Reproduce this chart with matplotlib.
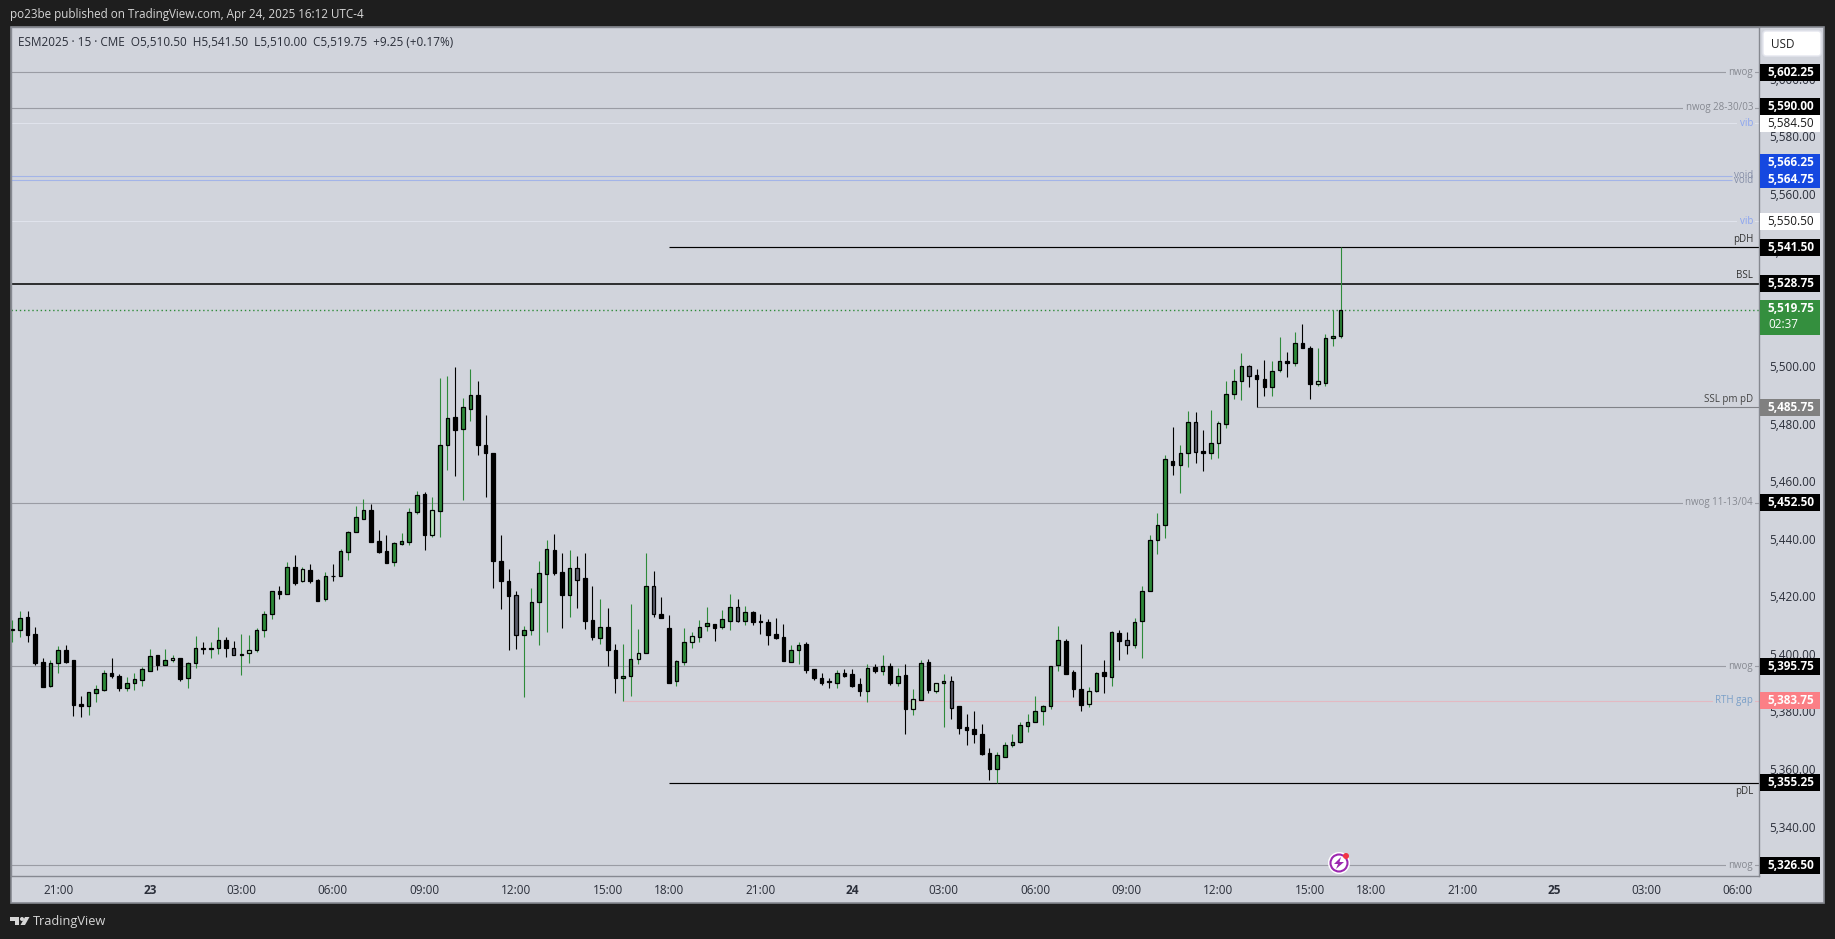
import matplotlib
matplotlib.use("Agg")
import matplotlib.pyplot as plt
from matplotlib.patches import Rectangle, FancyBboxPatch, Circle, Polygon
from matplotlib.transforms import Affine2D, blended_transform_factory

plt.rcParams['font.family'] = ['Open Sans', 'DejaVu Sans']

# 15 minute bars
opens = [5408.5,5408.5,5412.75,5407,5397.25,5388.75,5396.75,5401.25,5398,5382.5,
         5382,5386.5,5387.5,5393.25,5392.5,5388,5389.75,5391,5394.25,5399.5,
         5396.25,5397.75,5398.5,5391.5,5396.75,5402,5401.75,5402.25,5404.75,5402.25,
         5399.75,5400.25,5401.25,5408.5,5413.75,5421.75,5421,5430.25,5425.25,5429.25,
         5425.75,5419,5427.25,5427,5435.5,5442.25,5447,5450,5439.25,5435.75,
         5432,5438.25,5439,5449.25,5455.5,5441.5,5449.75,5472.5,5482.25,5478.25,
         5485.25,5490,5472.5,5469.75,5432.25,5425.25,5420.5,5406.75,5408.5,5418,
         5427.75,5436,5428.5,5420.5,5429.75,5426.25,5411.75,5405.5,5409.25,5401.5,
         5391.75,5392.5,5398.25,5400.5,5423.75,5414,5409,5390.5,5397.25,5404,
         5406,5409.75,5410.5,5409.25,5411.5,5416.5,5411.5,5414.5,5411.5,5411,
         5407,5406,5397.25,5401.25,5403.5,5394.75,5391.5,5390.5,5389.75,5393.5,
         5393,5389.5,5387.25,5395.5,5394,5395.75,5389.75,5392.75,5381,5384,
         5397.25,5387.25,5389.75,5390.5,5382,5374.5,5374,5372.25,5365.5,5360,
         5364.25,5368.25,5369.25,5375,5376.5,5380,5381.75,5396,5404.5,5393.75,
         5387.75,5382.5,5387,5393.75,5392,5407.25,5404.75,5403.25,5411.5,5422,
         5439.5,5445,5467.25,5465.75,5470,5480.5,5470.5,5469.75,5473.25,5480,
         5490.25,5494.75,5500,5497,5495.75,5493,5498.75,5502,5501,5508.25,
         5506.25,5494,5494.25,5509.75,5510.5]
highs = [5411.75,5415,5415,5409.5,5398.5,5397.75,5402.75,5403.25,5398,5385.5,
         5386.75,5389.25,5394.5,5398.5,5393,5392,5393.5,5395.5,5401.75,5399.5,
         5401.75,5399.75,5398.5,5397.25,5406.25,5404.25,5404.25,5409.5,5406,5404.5,
         5407,5406.5,5409,5415,5422,5423.75,5432,5434.5,5430.25,5431.25,
         5426,5428.5,5431.25,5436.5,5442.75,5451.5,5454,5452.25,5443,5441.25,
         5439,5442,5450.75,5456.75,5456.25,5454.5,5496,5496.75,5499.75,5489,
         5499,5495,5483,5469.75,5441.25,5429.5,5422,5409.75,5423,5432.25,
         5439.75,5441.75,5435,5436.25,5434,5435,5423.75,5419,5416,5403.5,
         5403.5,5417.25,5408.75,5435,5428.75,5419.75,5413.5,5398,5409,5407.75,
         5411.75,5416.25,5410.5,5415.25,5420.75,5419,5416.75,5415,5414,5412.25,
         5412.5,5410.5,5403,5404.25,5404.25,5394.75,5393.5,5391.5,5394.5,5394.75,
         5394.75,5391.75,5396.5,5396.5,5399.75,5397,5395.25,5396.5,5387.75,5398,
         5398.25,5390,5393,5392.25,5382,5379.25,5380.25,5375.75,5367.25,5366,
         5369.5,5372.25,5376.25,5379.25,5385.5,5382.25,5395.75,5409.75,5405.25,5394.5,
         5403.5,5388.5,5393.75,5398,5408,5408.25,5407.75,5412.5,5423.75,5441.25,
         5449,5469.25,5479,5472.75,5484.5,5484.25,5478,5484.75,5481,5495,
         5499,5504.75,5500.5,5499,5502.25,5501.75,5510.25,5505,5512,5514.75,
         5507,5506.5,5511.25,5519.75,5541.5]
lows = [5404.25,5406,5404.25,5396.25,5388.5,5388.5,5393.5,5397,5378.5,5378,
        5378.75,5383.25,5387.25,5391.75,5387.25,5387.25,5387.5,5389,5394,5394.5,
        5396.25,5397.25,5390.5,5388.25,5395.25,5400,5398.5,5400,5399,5399.75,
        5392.75,5397,5400.75,5406,5412.25,5419,5420.75,5424,5425,5424.75,
        5418.5,5418.5,5425.25,5427,5432.75,5442.25,5447,5439,5435,5431.75,
        5430.5,5438,5438,5448.75,5436.25,5440.75,5440.75,5464,5462,5453.5,
        5481,5469.25,5454.5,5423,5415.75,5401.5,5401.75,5385,5406.5,5403,
        5407.75,5427.5,5409,5412.75,5416,5408.75,5404.75,5403.5,5395.75,5386.5,
        5383.75,5385.5,5396.5,5400.5,5412.75,5412.5,5389.75,5389,5396.25,5402,
        5404.25,5408,5404.5,5408.75,5408.25,5411,5410,5410,5407,5403,
        5405.25,5397.5,5397.25,5396.5,5393.5,5391,5389.25,5388.25,5388.25,5392,
        5388.5,5385.5,5383.25,5393.5,5392.75,5389.25,5389,5372.25,5378.75,5384,
        5386.5,5386.5,5374.5,5377.5,5372.25,5368.25,5369,5365,5356.25,5355,
        5364.25,5367.75,5369,5373,5376.25,5375.25,5381,5394,5393,5385,
        5380.25,5381.5,5386.75,5386.5,5389,5398,5400,5402,5398.5,5422,
        5434.75,5440.25,5462.25,5456,5465,5466.5,5463.5,5467.75,5468.25,5478.5,
        5488.75,5488.25,5492.75,5485.75,5489.75,5489.75,5498,5496.25,5500.25,5506.5,
        5488.75,5493.25,5493.25,5507,5510]
closes = [5408.75,5412.5,5406.75,5397,5388.5,5397,5401.25,5397.25,5382.25,5382,
          5386.75,5387.75,5393.25,5392.25,5388.25,5389.75,5391.25,5394.75,5399.25,5396.25,
          5397.75,5398.5,5391.25,5396.75,5402,5401.75,5402.25,5404.75,5402.25,5399.75,
          5400,5401.5,5408.5,5413.75,5421.75,5421,5430.25,5424.75,5429.5,5425.5,
          5418.5,5427.25,5427,5435.75,5442.25,5447.5,5450,5439,5435.5,5431.75,
          5438.5,5439.25,5449.5,5455.25,5441.5,5450,5472.5,5482,5477.75,5485.75,
          5490,5472.5,5469.75,5432.5,5425.25,5420.25,5406.75,5408.5,5418,5428,
          5436.5,5428,5420.5,5429.75,5425.75,5411.5,5405.75,5409.25,5401.25,5391.5,
          5392.5,5398.25,5400.5,5423.5,5413.75,5412.5,5390,5397.5,5404,5406.25,
          5409.5,5410.75,5409,5412,5416.25,5411.5,5414.5,5411,5411.25,5406.5,
          5405.5,5397.5,5401.25,5403.25,5394.5,5391.75,5390,5390.25,5393.25,5392.25,
          5389,5387.25,5395.25,5394,5395.75,5390,5392.5,5381,5384.25,5397,
          5387.5,5389.75,5390.5,5381.25,5374.25,5373.5,5372.25,5365.25,5360,5364.75,
          5368.5,5369.25,5375.25,5376.5,5380,5381.75,5395.75,5404.75,5393,5387.75,
          5382.25,5387.25,5393.25,5392.25,5407.5,5404.5,5403.25,5411.25,5422,5439.5,
          5445,5467.75,5465.75,5470,5480.5,5470.25,5469.75,5473.25,5480.25,5490.25,
          5494.75,5500,5496.75,5495.75,5493,5498.5,5502,5501,5508,5506.5,
          5494,5494.75,5509.75,5510.5,5519.75]
pale_up = [21, 31, 38, 55, 82, 89, 118, 121, 141, 158, 171]
pale_down = [29, 66, 74, 84, 95, 123, 146, 155, 162]

# drawn levels: price, label, first bar of the line
level_prices = [5602.25, 5590.00, 5584.50, 5566.25, 5564.75, 5550.50, 5541.50,
                5528.75, 5485.75, 5452.50, 5395.75, 5383.75, 5355.25, 5326.50]
level_names = ['nwog', 'nwog 28-30/03', 'vib', 'void', 'void', 'vib', 'pDH',
               'BSL', 'SSL pm pD', 'nwog 11-13/04', 'nwog', 'RTH gap', 'pDL', 'nwog']
level_starts = [None, None, None, None, None, None, 86, None, 163, None, None, 80, 86, None]
last_price = 5519.75

x_tick_pos = [6, 18, 30, 42, 54, 66, 78, 86, 98, 110, 122, 134, 146, 158, 170,
              178, 190, 202, 214, 226]
x_tick_labels = ['21:00', '23', '03:00', '06:00', '09:00', '12:00', '15:00', '18:00',
                 '21:00', '24', '03:00', '06:00', '09:00', '12:00', '15:00', '18:00',
                 '21:00', '25', '03:00', '06:00']
y_ticks = [5340, 5360, 5380, 5400, 5420, 5440, 5460, 5480, 5500, 5520, 5540, 5560, 5580, 5600]

BG = '#1e1e1e'
PANEL = '#d1d4dc'
BORDER = '#868991'
GREEN = '#2e8b3a'
W, H = 1835, 939

fig = plt.figure(figsize=(W / 100, H / 100), dpi=100, facecolor=BG)
px = Affine2D().scale(1, -1).translate(0, H)  # image pixels, origin top left

fig.add_artist(Rectangle((10.5, 27), 1813, 876, transform=px, fc=PANEL, ec=BORDER, lw=1.2, zorder=-1))

ax = fig.add_axes([11 / W, 1 - 876 / H, 1748 / W, 849 / H], facecolor=PANEL)
ax.set_xlim(-0.17, 228.8)
ax.set_ylim(5322.8, 5618.0)
for s in ax.spines.values():
    s.set_color(BORDER)
    s.set_linewidth(1.0)

# levels
line_style = {'nwog': ('#9a9ca4', 0.8), 'vib': ('#e0e3ec', 0.8), 'void': ('#a3b4e8', 0.8),
              'pDH': ('#000000', 0.85), 'BSL': ('#000000', 1.1), 'pDL': ('#000000', 0.85),
              'SSL': ('#808288', 0.8), 'RTH': ('#e3b9c2', 0.8)}
text_color = {'nwog': '#868991', 'vib': '#8aa4f0', 'void': '#868fa8', 'pDH': '#333333',
              'BSL': '#333333', 'pDL': '#333333', 'SSL': '#444444', 'RTH': '#7a9fc8'}
trans = blended_transform_factory(ax.transAxes, ax.transData)
for price, name, start in zip(level_prices, level_names, level_starts):
    key = name.split()[0]
    col, lw = line_style[key]
    x0 = ax.get_xlim()[0] if start is None else start
    x1 = 225.2 if key == 'void' else ax.get_xlim()[1]
    ax.plot([x0, x1], [price, price], color=col, lw=lw, zorder=1, solid_capstyle='butt')
    dy = 0
    box = dict(fc=PANEL, ec='none', pad=1.6)
    if key == 'void':
        box = None
    if name in ('pDH', 'BSL', 'SSL pm pD'):
        dy, box = 8, None
    if name == 'pDL':
        dy, box = -9, None
    ax.annotate(name, xy=(0.9966, price), xycoords=trans, xytext=(0, dy), textcoords='offset pixels',
                ha='right', va='center', fontsize=7, color=text_color[key], bbox=box, zorder=2)
ax.plot(ax.get_xlim(), [last_price, last_price], color=GREEN, lw=1.0, ls=(0, (1, 2)), zorder=1)

# candles
for i, (o, h, l, c) in enumerate(zip(opens, highs, lows, closes)):
    up = c >= o
    fill = GREEN if up else '#000000'
    if i in pale_up:
        fill = '#b5e3b8'
    if i in pale_down:
        fill = '#5b5d6b'
    ax.vlines(i, l, h, color=GREEN if up else '#000000', lw=0.8, zorder=3)
    ax.bar(i, abs(c - o), bottom=min(o, c), width=0.47, color=fill, edgecolor='#000000',
           linewidth=0.9, zorder=4)

# axes text
ax.set_xticks(x_tick_pos)
ax.set_xticklabels(x_tick_labels, fontsize=8.5, color='#2a2e39')
for lab, txt in zip(ax.get_xticklabels(), x_tick_labels):
    if len(txt) == 2:
        lab.set_fontweight('bold')
ax.yaxis.tick_right()
ax.set_yticks(y_ticks)
ax.set_yticklabels([f'{v:,.2f}' for v in y_ticks], fontsize=8.5, color='#2a2e39')
ax.tick_params(axis='x', length=0, pad=5.5)
ax.tick_params(axis='y', length=0, pad=7)
for lab in ax.get_yticklabels():
    lab.set_verticalalignment('center_baseline')

# price tags on the scale
tag_color = {'nwog': '#000000', 'vib': '#ffffff', 'void': '#1548e0', 'pDH': '#000000',
             'BSL': '#000000', 'pDL': '#000000', 'SSL': '#808080', 'RTH': '#fb7f86'}
tag_offset = {5566.25: -13.5, 5564.75: -0.5, 5590.00: -1.5}
y_px = ax.transData.transform
for price, name in zip(level_prices, level_names):
    key = name.split()[0]
    yc = H - y_px((0, price))[1] + tag_offset.get(price, 0)
    fig.add_artist(Rectangle((1760, yc - 8.5), 60, 17, transform=px, fc=tag_color[key], ec='none', zorder=5))
    fig.text(1791, yc, f'{price:,.2f}', transform=px, ha='center', va='center', fontsize=8.5,
             fontweight='normal' if key == 'vib' else 'bold',
             color='#1a1a1a' if key == 'vib' else '#ffffff', zorder=6)
yc = H - y_px((0, last_price))[1] - 1
fig.add_artist(Rectangle((1760, yc - 8.5), 60, 35, transform=px, fc='#348f3e', ec='none', zorder=5))
fig.text(1791, yc, f'{last_price:,.2f}', transform=px, ha='center', va='center', fontsize=8.5,
         fontweight='bold', color='#ffffff', zorder=6)
fig.text(1768, yc + 16, '02:37', transform=px, ha='left', va='center', fontsize=8.5, color='#ffffff', zorder=6)

# currency button
fig.add_artist(FancyBboxPatch((1765, 33), 54, 21, boxstyle='round,pad=2,rounding_size=3', transform=px,
                              fc='#ffffff', ec='#e4e6ee', lw=1, zorder=5))
fig.text(1771 / W, 1 - 44.5 / H, 'USD', ha='left', va='center', fontsize=8.5, color='#222222', zorder=6)

# header and legend
fig.text(10 / W, 1 - 14.5 / H, 'po23be published on TradingView.com, Apr 24, 2025 16:12 UTC-4',
         ha='left', va='center', fontsize=8.4, color='#d6d6d6')
fig.text(18 / W, 1 - 42.5 / H, 'ESM2025 · 15 · CME  O5,510.50  H5,541.50  L5,510.00  C5,519.75  +9.25 (+0.17%)',
         ha='left', va='center', fontsize=8.5, color='#2a2e39')

# footer logo
logo = [[(10, 917), (19, 917), (19, 925), (15, 925), (15, 921), (10, 921)],
        [(25, 917), (29.5, 917), (25, 925), (20.5, 925)]]
for pts in logo:
    fig.add_artist(Polygon(pts, transform=px, fc='#d6d6d6', ec='none'))
fig.add_artist(Circle((22, 919), 2, transform=px, fc='#d6d6d6', ec='none'))
fig.text(33 / W, 1 - 921 / H, 'TradingView', ha='left', va='center', fontsize=9.2, color='#d6d6d6')

# lightning marker
fig.add_artist(Circle((1339, 863), 11, transform=px, fc='#ffffff', ec='none', zorder=7))
fig.add_artist(Circle((1339, 863), 8.5, transform=px, fc='#ffffff', ec='#9c27b0', lw=1.5, zorder=7))
fig.add_artist(Polygon([(1341, 857), (1334, 864), (1338, 864), (1336, 869), (1344, 862), (1339.5, 862)],
                       transform=px, fc='#9c27b0', ec='none', zorder=8))
fig.add_artist(Circle((1346, 856), 3, transform=px, fc='#f23645', ec='none', zorder=8))

fig.savefig('out.png', dpi=100, facecolor=BG)
